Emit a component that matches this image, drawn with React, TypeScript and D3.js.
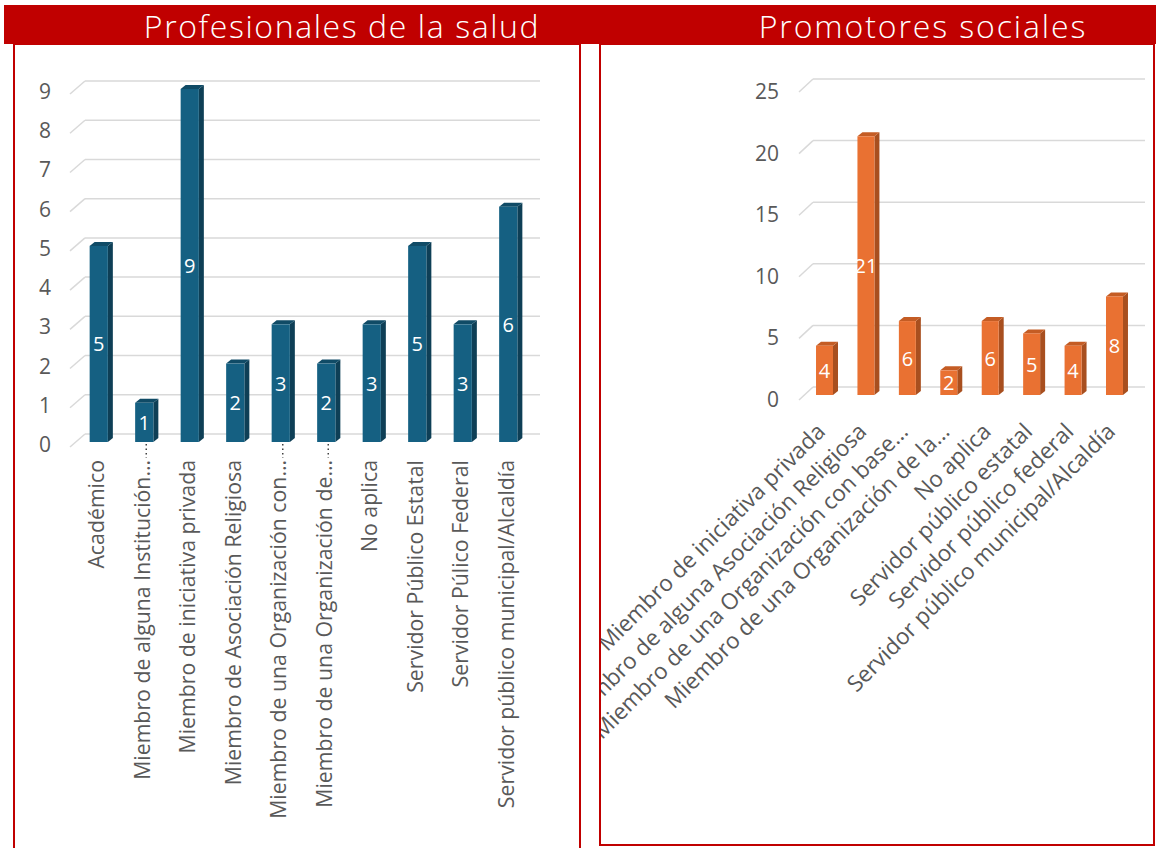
import React from 'react';
import { scaleBand, scaleLinear } from 'd3';

// Profesionales de la salud
const saludCategorias = [
  'Académico',
  'Miembro de alguna Institución…',
  'Miembro de iniciativa privada',
  'Miembro de Asociación Religiosa',
  'Miembro de una Organización con…',
  'Miembro de una Organización de…',
  'No aplica',
  'Servidor Público Estatal',
  'Servidor Púlico Federal',
  'Servidor público municipal/Alcaldía',
];
const saludValores = [5, 1, 9, 2, 3, 2, 3, 5, 3, 6];
const saludTicks = [0, 1, 2, 3, 4, 5, 6, 7, 8, 9];

// Promotores sociales
const promotoresCategorias = [
  'Miembro de iniciativa privada',
  'Miembro de alguna Asociación Religiosa',
  'Miembro de una Organización con base…',
  'Miembro de una Organización de la…',
  'No aplica',
  'Servidor público estatal',
  'Servidor público federal',
  'Servidor público municipal/Alcaldía',
];
const promotoresValores = [4, 21, 6, 2, 6, 5, 4, 8];
const promotoresTicks = [0, 5, 10, 15, 20, 25];

const RED = '#c00000';
const GRID = '#d9d9d9';
const TXT = '#595959';
const FONT = "'Open Sans', 'Liberation Sans', sans-serif";

type Panel = {
  cats: string[];
  vals: number[];
  ticks: number[];
  yTop: number;
  yBase: number;
  xRange: [number, number];
  pad: number;
  gridX: [number, number, number]; // diag start, back start, end
  tickX: number;
  tickDy: number;
  colors: { front: string; side: string; top: string };
  rotate: number;
  labelSize: number;
  labelAt: (cx: number) => [number, number];
  leaders?: number[];
};

const Bars: React.FC<{ p: Panel }> = ({ p }) => {
  const y = scaleLinear().domain([0, p.ticks[p.ticks.length - 1]]).range([p.yBase, p.yTop]);
  const x = scaleBand<string>().domain(p.cats).range(p.xRange).paddingInner(p.pad).paddingOuter(p.pad / 2);
  const bw = x.bandwidth();
  const dx = 5, dy = 4;
  return (
    <g fontFamily={FONT}>
      {p.ticks.map((t) => (
        <g key={t}>
          <line x1={p.gridX[0]} y1={y(t) + 5} x2={p.gridX[1]} y2={y(t) - 8} stroke={GRID} strokeWidth={1.5} />
          <line x1={p.gridX[1]} y1={y(t) - 8} x2={p.gridX[2]} y2={y(t) - 8} stroke={GRID} strokeWidth={1.5} />
          <text x={p.tickX} y={y(t) + p.tickDy} textAnchor="end" dominantBaseline="central" fontSize={21} fill={TXT}>
            {t}
          </text>
        </g>
      ))}
      {p.cats.map((c, i) => {
        const x0 = x(c)!;
        const v = p.vals[i];
        const yt = y(v);
        const yb = y(0);
        return (
          <g key={c}>
            <polygon
              points={`${x0 + bw},${yt} ${x0 + bw + dx},${yt - dy} ${x0 + bw + dx},${yb - dy} ${x0 + bw},${yb}`}
              fill={p.colors.side}
            />
            <polygon
              points={`${x0},${yt} ${x0 + dx},${yt - dy} ${x0 + bw + dx},${yt - dy} ${x0 + bw},${yt}`}
              fill={p.colors.top}
            />
            <rect x={x0} y={yt} width={bw} height={yb - yt} fill={p.colors.front} />
            <text x={x0 + bw / 2} y={y(v / 2)} textAnchor="middle" dominantBaseline="central" fontSize={20} fill="#ffffff">
              {v}
            </text>
          </g>
        );
      })}
      {(p.leaders || []).map((i) => {
        const cx = x(p.cats[i])! + bw / 2;
        return (
          <line key={'l' + i} x1={cx + 2} y1={y(0) + 2} x2={cx + 2} y2={y(0) + 16} stroke="#404040" strokeWidth={1.5} strokeDasharray="1.5 3" />
        );
      })}
      {p.cats.map((c) => {
        const cx = x(c)! + bw / 2;
        const [lx, ly] = p.labelAt(cx);
        return (
          <text
            key={'t' + c}
            transform={`translate(${lx},${ly}) rotate(${p.rotate})`}
            textAnchor="end"
            dominantBaseline="central"
            fontSize={p.labelSize}
            fill={TXT}
          >
            {c}
          </text>
        );
      })}
    </g>
  );
};

const salud: Panel = {
  cats: saludCategorias,
  vals: saludValores,
  ticks: saludTicks,
  yTop: 89,
  yBase: 442,
  xRange: [76, 531],
  pad: 0.6,
  gridX: [70, 85, 540],
  tickX: 51,
  tickDy: 2,
  colors: { front: '#156082', side: '#0e3f56', top: '#104b66' },
  rotate: -90,
  labelSize: 21.3,
  labelAt: (cx) => [cx - 3, 460],
  leaders: [1, 4, 5],
};

const promotores: Panel = {
  cats: promotoresCategorias,
  vals: promotoresValores,
  ticks: promotoresTicks,
  yTop: 87,
  yBase: 395,
  xRange: [803.8, 1135.2],
  pad: 0.59,
  gridX: [799, 813, 1145],
  tickX: 779,
  tickDy: 4,
  colors: { front: '#e97132', side: '#a84f1f', top: '#c45c24' },
  rotate: -45,
  labelSize: 22.5,
  labelAt: (cx) => [cx - 4, 427],
};

export default function App() {
  return (
    <svg width={1156} height={848} style={{ position: 'absolute', left: 0, top: 0, background: '#fff' }}>
      <defs>
        <clipPath id="clipRight">
          <rect x={601} y={45} width={552} height={799} />
        </clipPath>
      </defs>
      <rect x={0} y={0} width={1156} height={848} fill="#ffffff" />
      <rect x={4} y={5} width={1152} height={39} fill={RED} />
      <text x={342} y={25} textAnchor="middle" dominantBaseline="central" fontFamily={FONT} fontWeight={300} fontSize={32} letterSpacing={1.6} fill="#fff">
        Profesionales de la salud
      </text>
      <text x={923} y={25} textAnchor="middle" dominantBaseline="central" fontFamily={FONT} fontWeight={300} fontSize={32} letterSpacing={1.9} fill="#fff">
        Promotores sociales
      </text>
      <rect x={14} y={44} width={566} height={830} fill="none" stroke={RED} strokeWidth={2} />
      <rect x={600} y={44} width={554} height={801} fill="none" stroke={RED} strokeWidth={2} />
      <Bars p={salud} />
      <g clipPath="url(#clipRight)">
        <Bars p={promotores} />
      </g>
    </svg>
  );
}
